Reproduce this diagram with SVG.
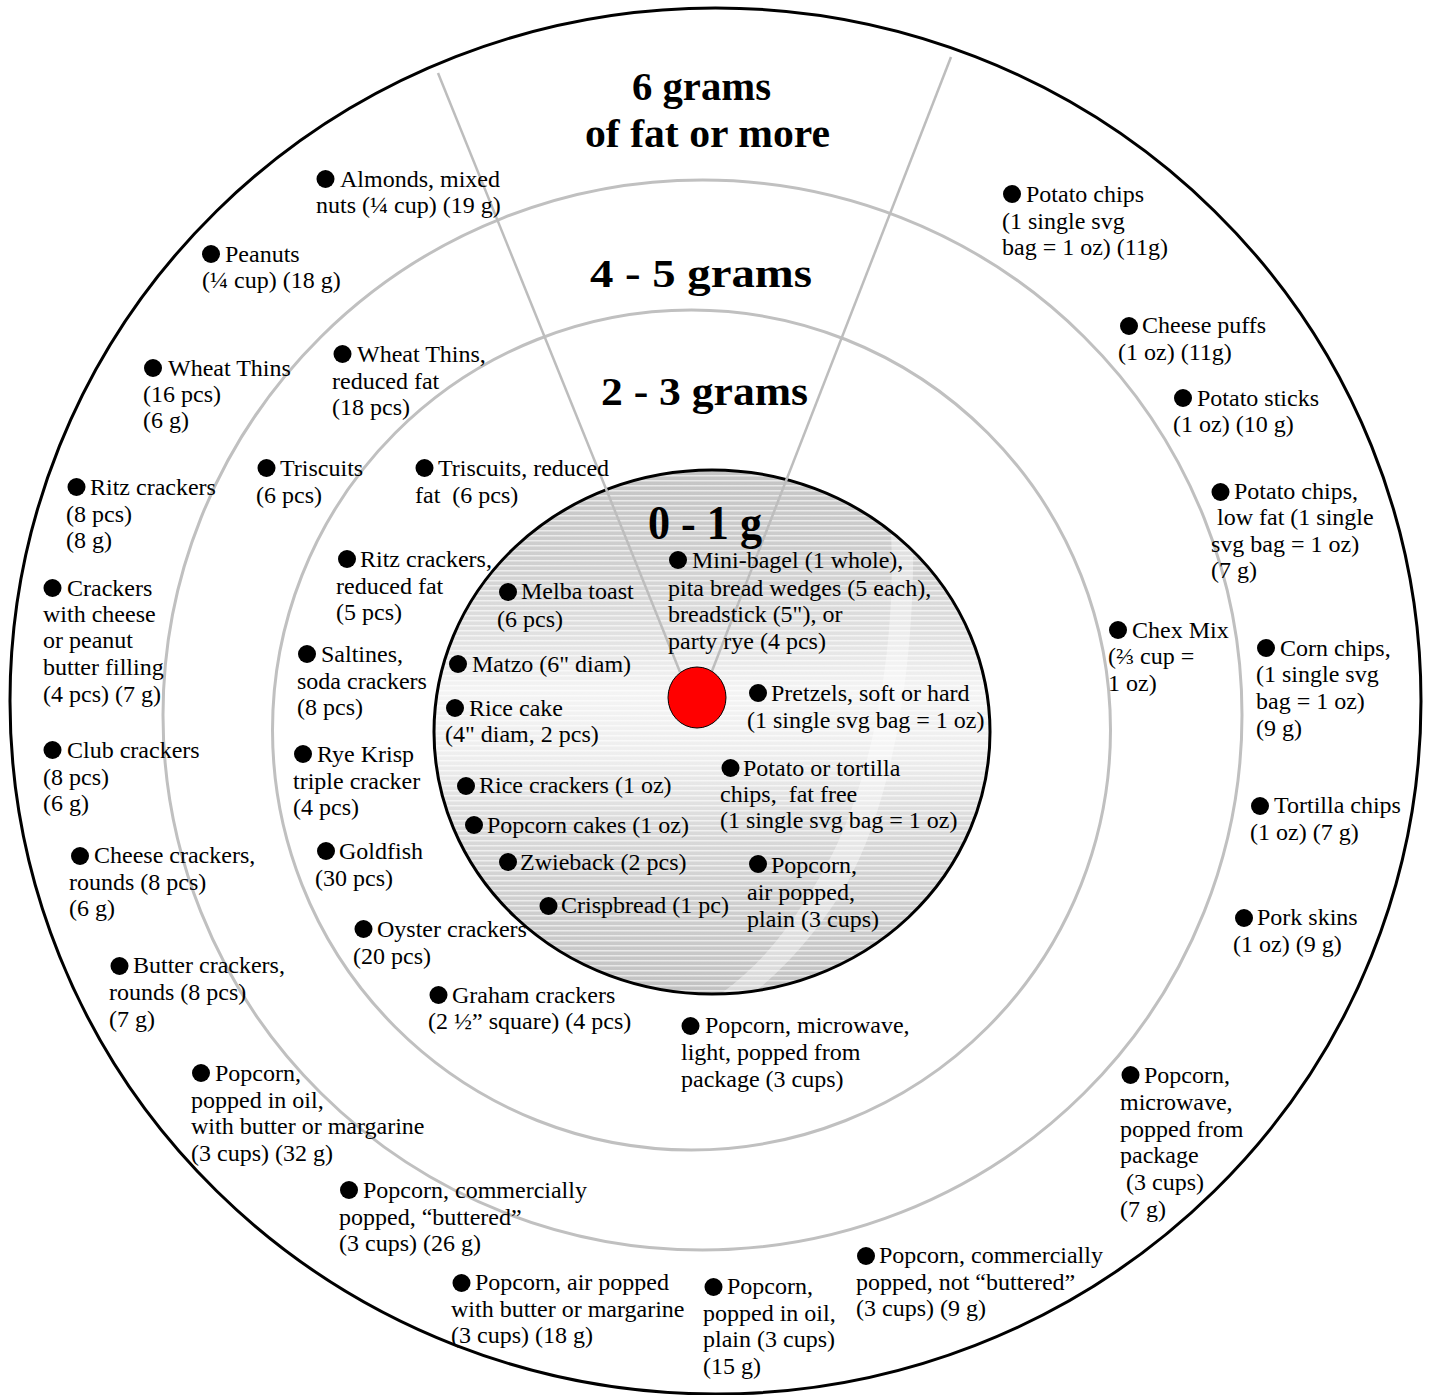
<svg xmlns="http://www.w3.org/2000/svg" width="1429" height="1395" viewBox="0 0 1429 1395">
<style>
.t{font-family:"Liberation Serif","Times New Roman",serif;font-size:24px;fill:#000;white-space:pre}
.h{font-family:"Liberation Serif","Times New Roman",serif;font-weight:bold;font-size:40px;fill:#000}
.b{fill:#000}
.ring{fill:none;stroke:#c0c0c0;stroke-width:3}
.div{stroke:#bdbdbd;stroke-width:2.5;fill:none}
</style>
<defs>
<linearGradient id="ig" x1="0" y1="470" x2="0" y2="994" gradientUnits="userSpaceOnUse">
<stop offset="0" stop-color="#c4c4c4"/>
<stop offset="0.18" stop-color="#d0d0d0"/>
<stop offset="0.32" stop-color="#e2e2e2"/>
<stop offset="0.42" stop-color="#f4f4f4"/>
<stop offset="0.55" stop-color="#eeeeee"/>
<stop offset="0.68" stop-color="#dadada"/>
<stop offset="1" stop-color="#c2c2c2"/>
</linearGradient>
<pattern id="stripes" width="10" height="5" patternUnits="userSpaceOnUse">
<rect x="0" y="0" width="10" height="1.5" fill="#ffffff" opacity="0.6"/>
</pattern>
<clipPath id="innerClip"><ellipse cx="712" cy="732" rx="278" ry="262"/></clipPath>
</defs>
<rect width="1429" height="1395" fill="#ffffff"/>
<g id="rings">
<ellipse id="ring-6g" cx="715.5" cy="701" rx="705.5" ry="693" fill="#ffffff" stroke="#000" stroke-width="3"/>
<ellipse id="ring-45g" class="ring" cx="702.5" cy="715" rx="539.5" ry="535"/>
<ellipse id="ring-23g" class="ring" cx="691.5" cy="730" rx="419" ry="420"/>
<g id="ring-01g">
<ellipse cx="712" cy="732" rx="278" ry="262" fill="url(#ig)"/>
<ellipse cx="712" cy="732" rx="278" ry="262" fill="url(#stripes)"/>
<path clip-path="url(#innerClip)" d="M885 470 C905 600 880 780 818 880 C785 935 760 965 718 996 L750 996 C795 960 825 920 846 885 C900 790 922 620 910 470 Z" fill="#ffffff" opacity="0.4"/>
<ellipse cx="712" cy="732" rx="278" ry="262" fill="none" stroke="#000" stroke-width="3"/>
</g>
</g>
<g id="connectors">
<line class="div" x1="438" y1="73" x2="680" y2="672"/>
<line class="div" x1="951" y1="57" x2="712" y2="671"/>
</g>
<g id="center-dot">
<ellipse cx="697" cy="697.5" rx="29" ry="30.5" fill="#ff0000" stroke="#000" stroke-width="1"/>
</g>
<g id="headings">
<text class="h" x="632" y="100" textLength="139" lengthAdjust="spacingAndGlyphs">6 grams</text>
<text class="h" x="585" y="147" textLength="245" lengthAdjust="spacingAndGlyphs">of fat or more</text>
<text class="h" x="590" y="287" textLength="222" lengthAdjust="spacingAndGlyphs">4 - 5 grams</text>
<text class="h" x="601" y="405" textLength="207" lengthAdjust="spacingAndGlyphs">2 - 3 grams</text>
<text class="h" x="648" y="539" textLength="114" lengthAdjust="spacingAndGlyphs" style="font-size:48px">0 - 1 g</text>
</g>
<g id="n-almonds"><circle class="b" cx="325.5" cy="179" r="9"/><text class="t"><tspan x="340" y="187">Almonds, mixed</tspan><tspan x="316" y="213">nuts (¼ cup) (19 g)</tspan></text></g>
<g id="n-peanuts"><circle class="b" cx="211" cy="254" r="9"/><text class="t"><tspan x="225" y="262">Peanuts</tspan><tspan x="202" y="288">(¼ cup) (18 g)</tspan></text></g>
<g id="n-wheat-thins"><circle class="b" cx="153" cy="368" r="9"/><text class="t"><tspan x="168" y="376">Wheat Thins</tspan><tspan x="143" y="402">(16 pcs)</tspan><tspan x="143" y="428">(6 g)</tspan></text></g>
<g id="n-wheat-thins-rf"><circle class="b" cx="342.5" cy="354" r="9"/><text class="t"><tspan x="357" y="362">Wheat Thins,</tspan><tspan x="332" y="389">reduced fat</tspan><tspan x="332" y="415">(18 pcs)</tspan></text></g>
<g id="n-triscuits"><circle class="b" cx="266.5" cy="468" r="9"/><text class="t"><tspan x="280" y="476">Triscuits</tspan><tspan x="256" y="503">(6 pcs)</tspan></text></g>
<g id="n-triscuits-rf"><circle class="b" cx="424.5" cy="468" r="9"/><text class="t"><tspan x="438" y="476">Triscuits, reduced</tspan><tspan x="415" y="503">fat  (6 pcs)</tspan></text></g>
<g id="n-ritz"><circle class="b" cx="76.5" cy="487" r="9"/><text class="t"><tspan x="90" y="495">Ritz crackers</tspan><tspan x="66" y="522">(8 pcs)</tspan><tspan x="66" y="548">(8 g)</tspan></text></g>
<g id="n-crackers-filling"><circle class="b" cx="52.5" cy="588" r="9"/><text class="t"><tspan x="67" y="596">Crackers</tspan><tspan x="43" y="622">with cheese</tspan><tspan x="43" y="648">or peanut</tspan><tspan x="43" y="675">butter filling</tspan><tspan x="43" y="702">(4 pcs) (7 g)</tspan></text></g>
<g id="n-club"><circle class="b" cx="52.5" cy="750" r="9"/><text class="t"><tspan x="67" y="758">Club crackers</tspan><tspan x="43" y="784.5">(8 pcs)</tspan><tspan x="43" y="811">(6 g)</tspan></text></g>
<g id="n-cheese-crackers"><circle class="b" cx="80" cy="856" r="9"/><text class="t"><tspan x="94" y="863">Cheese crackers,</tspan><tspan x="69" y="890">rounds (8 pcs)</tspan><tspan x="69" y="916">(6 g)</tspan></text></g>
<g id="n-ritz-rf"><circle class="b" cx="347" cy="559" r="9"/><text class="t"><tspan x="360" y="567">Ritz crackers,</tspan><tspan x="336" y="593.5">reduced fat</tspan><tspan x="336" y="620">(5 pcs)</tspan></text></g>
<g id="n-saltines"><circle class="b" cx="307" cy="654" r="9"/><text class="t"><tspan x="321" y="662">Saltines,</tspan><tspan x="297" y="688.5">soda crackers</tspan><tspan x="297" y="715">(8 pcs)</tspan></text></g>
<g id="n-rye-krisp"><circle class="b" cx="303" cy="754" r="9"/><text class="t"><tspan x="317" y="762">Rye Krisp</tspan><tspan x="293" y="788.5">triple cracker</tspan><tspan x="293" y="815">(4 pcs)</tspan></text></g>
<g id="n-goldfish"><circle class="b" cx="326" cy="851" r="9"/><text class="t"><tspan x="339" y="859">Goldfish</tspan><tspan x="315" y="885.5">(30 pcs)</tspan></text></g>
<g id="n-oyster"><circle class="b" cx="363.5" cy="929" r="9"/><text class="t"><tspan x="377" y="937">Oyster crackers</tspan><tspan x="353" y="963.5">(20 pcs)</tspan></text></g>
<g id="n-butter-crackers"><circle class="b" cx="119.5" cy="966" r="9"/><text class="t"><tspan x="133" y="973">Butter crackers,</tspan><tspan x="109" y="1000">rounds (8 pcs)</tspan><tspan x="109" y="1027">(7 g)</tspan></text></g>
<g id="n-popcorn-oil-butter"><circle class="b" cx="201" cy="1073" r="9"/><text class="t"><tspan x="215" y="1081">Popcorn,</tspan><tspan x="191" y="1107.5">popped in oil,</tspan><tspan x="191" y="1134">with butter or margarine</tspan><tspan x="191" y="1160.5">(3 cups) (32 g)</tspan></text></g>
<g id="n-popcorn-comm-buttered"><circle class="b" cx="349" cy="1190" r="9"/><text class="t"><tspan x="363" y="1198">Popcorn, commercially</tspan><tspan x="339" y="1224.5">popped, “buttered”</tspan><tspan x="339" y="1251">(3 cups) (26 g)</tspan></text></g>
<g id="n-popcorn-air-butter"><circle class="b" cx="461.5" cy="1283" r="9"/><text class="t"><tspan x="475" y="1290">Popcorn, air popped</tspan><tspan x="451" y="1316.5">with butter or margarine</tspan><tspan x="451" y="1343">(3 cups) (18 g)</tspan></text></g>
<g id="n-popcorn-oil-plain"><circle class="b" cx="713.5" cy="1287" r="9"/><text class="t"><tspan x="727" y="1294">Popcorn,</tspan><tspan x="703" y="1320.5">popped in oil,</tspan><tspan x="703" y="1347">plain (3 cups)</tspan><tspan x="703" y="1373.5">(15 g)</tspan></text></g>
<g id="n-popcorn-comm-plain"><circle class="b" cx="866" cy="1256" r="9"/><text class="t"><tspan x="879" y="1263">Popcorn, commercially</tspan><tspan x="856" y="1289.5">popped, not “buttered”</tspan><tspan x="856" y="1316">(3 cups) (9 g)</tspan></text></g>
<g id="n-popcorn-microwave"><circle class="b" cx="1130.5" cy="1075" r="9"/><text class="t"><tspan x="1144" y="1083">Popcorn,</tspan><tspan x="1120" y="1110">microwave,</tspan><tspan x="1120" y="1137">popped from</tspan><tspan x="1120" y="1163">package</tspan><tspan x="1120" y="1190"> (3 cups)</tspan><tspan x="1120" y="1217">(7 g)</tspan></text></g>
<g id="n-pork-skins"><circle class="b" cx="1244" cy="918" r="9"/><text class="t"><tspan x="1257" y="925">Pork skins</tspan><tspan x="1233" y="952">(1 oz) (9 g)</tspan></text></g>
<g id="n-tortilla-chips"><circle class="b" cx="1260" cy="806" r="9"/><text class="t"><tspan x="1274" y="813">Tortilla chips</tspan><tspan x="1250" y="840">(1 oz) (7 g)</tspan></text></g>
<g id="n-corn-chips"><circle class="b" cx="1266" cy="648" r="9"/><text class="t"><tspan x="1280" y="656">Corn chips,</tspan><tspan x="1256" y="682">(1 single svg</tspan><tspan x="1256" y="709">bag = 1 oz)</tspan><tspan x="1256" y="736">(9 g)</tspan></text></g>
<g id="n-potato-chips-lf"><circle class="b" cx="1220.5" cy="492" r="9"/><text class="t"><tspan x="1234" y="499">Potato chips,</tspan><tspan x="1211" y="525"> low fat (1 single</tspan><tspan x="1211" y="552">svg bag = 1 oz)</tspan><tspan x="1211" y="578">(7 g)</tspan></text></g>
<g id="n-chex-mix"><circle class="b" cx="1118" cy="630" r="9"/><text class="t"><tspan x="1132" y="638">Chex Mix</tspan><tspan x="1108" y="664">(⅔ cup =</tspan><tspan x="1108" y="691">1 oz)</tspan></text></g>
<g id="n-potato-sticks"><circle class="b" cx="1183" cy="398" r="9"/><text class="t"><tspan x="1197" y="406">Potato sticks</tspan><tspan x="1173" y="432">(1 oz) (10 g)</tspan></text></g>
<g id="n-cheese-puffs"><circle class="b" cx="1129" cy="326" r="9"/><text class="t"><tspan x="1142" y="333">Cheese puffs</tspan><tspan x="1118" y="360">(1 oz) (11g)</tspan></text></g>
<g id="n-potato-chips"><circle class="b" cx="1012" cy="194" r="9"/><text class="t"><tspan x="1026" y="202">Potato chips</tspan><tspan x="1002" y="229">(1 single svg</tspan><tspan x="1002" y="255">bag = 1 oz) (11g)</tspan></text></g>
<g id="n-popcorn-microwave-light"><circle class="b" cx="690.5" cy="1026" r="9"/><text class="t"><tspan x="705" y="1033">Popcorn, microwave,</tspan><tspan x="681" y="1060">light, popped from</tspan><tspan x="681" y="1087">package (3 cups)</tspan></text></g>
<g id="n-graham"><circle class="b" cx="438.5" cy="995" r="9"/><text class="t"><tspan x="452" y="1003">Graham crackers</tspan><tspan x="428" y="1029">(2 ½” square) (4 pcs)</tspan></text></g>
<g id="n-mini-bagel"><circle class="b" cx="678" cy="560" r="9"/><text class="t"><tspan x="692" y="568">Mini-bagel (1 whole),</tspan><tspan x="668" y="596">pita bread wedges (5 each),</tspan><tspan x="668" y="622">breadstick (5"), or</tspan><tspan x="668" y="649">party rye (4 pcs)</tspan></text></g>
<g id="n-melba"><circle class="b" cx="508" cy="592" r="9"/><text class="t"><tspan x="521" y="599">Melba toast</tspan><tspan x="497" y="627">(6 pcs)</tspan></text></g>
<g id="n-matzo"><circle class="b" cx="458" cy="664" r="9"/><text class="t" x="472" y="672">Matzo (6" diam)</text></g>
<g id="n-rice-cake"><circle class="b" cx="455" cy="708" r="9"/><text class="t"><tspan x="469" y="716">Rice cake</tspan><tspan x="445" y="742">(4" diam, 2 pcs)</tspan></text></g>
<g id="n-pretzels"><circle class="b" cx="758" cy="693" r="9"/><text class="t"><tspan x="771" y="701">Pretzels, soft or hard</tspan><tspan x="747" y="728">(1 single svg bag = 1 oz)</tspan></text></g>
<g id="n-rice-crackers"><circle class="b" cx="466" cy="786" r="9"/><text class="t" x="479" y="793">Rice crackers (1 oz)</text></g>
<g id="n-chips-fat-free"><circle class="b" cx="730.5" cy="768" r="9"/><text class="t"><tspan x="743" y="776">Potato or tortilla</tspan><tspan x="720" y="802">chips,  fat free</tspan><tspan x="720" y="828">(1 single svg bag = 1 oz)</tspan></text></g>
<g id="n-popcorn-cakes"><circle class="b" cx="474" cy="825" r="9"/><text class="t" x="487" y="833">Popcorn cakes (1 oz)</text></g>
<g id="n-zwieback"><circle class="b" cx="508" cy="862" r="9"/><text class="t" x="520" y="870">Zwieback (2 pcs)</text></g>
<g id="n-popcorn-air-plain"><circle class="b" cx="758" cy="864" r="9"/><text class="t"><tspan x="771" y="873">Popcorn,</tspan><tspan x="747" y="900">air popped,</tspan><tspan x="747" y="927">plain (3 cups)</tspan></text></g>
<g id="n-crispbread"><circle class="b" cx="548.5" cy="906" r="9"/><text class="t" x="561" y="913">Crispbread (1 pc)</text></g>
</svg>
